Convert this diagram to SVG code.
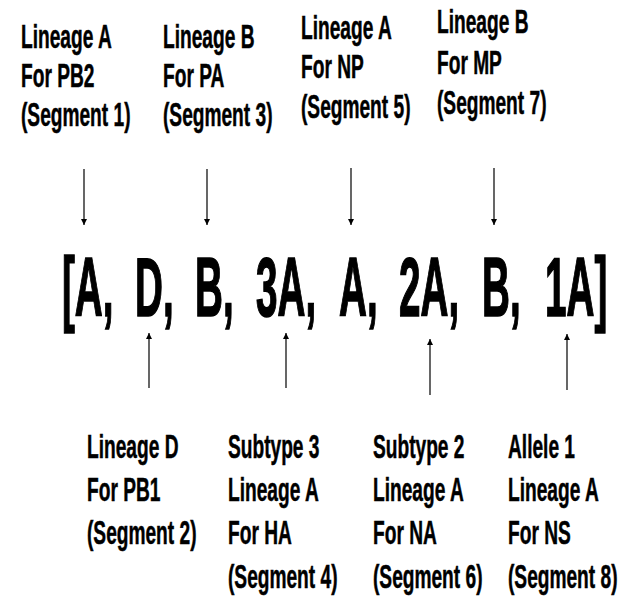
<svg xmlns="http://www.w3.org/2000/svg" width="633" height="607" viewBox="0 0 633 607">
<style>
.lbl{font-family:"Liberation Sans",Arial,sans-serif;font-weight:bold;font-size:33px;fill:#000;stroke:#000;stroke-width:0.5}
.big{font-family:"Liberation Sans",Arial,sans-serif;font-weight:bold;font-size:84px;fill:#000;stroke:#000;stroke-width:1.6}
.arr{stroke:#000;stroke-width:1.2;fill:none;marker-end:url(#ah)}
</style>
<defs>
<marker id="ah" viewBox="0 0 10 10" refX="10" refY="5" markerWidth="10" markerHeight="6" markerUnits="userSpaceOnUse" orient="auto">
<path d="M0,0 L10,5 L0,10 Z" fill="#000"/>
</marker>
</defs>
<rect width="633" height="607" fill="#fff"/>
<g id="top1" transform="translate(21,0) scale(0.58,1)">
<text class="lbl" x="0" y="48">Lineage A</text>
<text class="lbl" x="0" y="87">For PB2</text>
<text class="lbl" x="0" y="126">(Segment 1)</text>
</g>
<g id="top2" transform="translate(163,0) scale(0.58,1)">
<text class="lbl" x="0" y="48">Lineage B</text>
<text class="lbl" x="0" y="87">For PA</text>
<text class="lbl" x="0" y="126">(Segment 3)</text>
</g>
<g id="top3" transform="translate(301,0) scale(0.58,1)">
<text class="lbl" x="0" y="39">Lineage A</text>
<text class="lbl" x="0" y="78">For NP</text>
<text class="lbl" x="0" y="118">(Segment 5)</text>
</g>
<g id="top4" transform="translate(437,0) scale(0.58,1)">
<text class="lbl" x="0" y="33">Lineage B</text>
<text class="lbl" x="0" y="74">For MP</text>
<text class="lbl" x="0" y="114">(Segment 7)</text>
</g>
<g id="code">
<text class="big" transform="translate(62,316) scale(0.46,1)">[A,</text>
<text class="big" transform="translate(135,316) scale(0.46,1)">D,</text>
<text class="big" transform="translate(195,316) scale(0.46,1)">B,</text>
<text class="big" transform="translate(256,316) scale(0.46,1)">3A,</text>
<text class="big" transform="translate(339,316) scale(0.46,1)">A,</text>
<text class="big" transform="translate(399,316) scale(0.46,1)">2A,</text>
<text class="big" transform="translate(482,316) scale(0.46,1)">B,</text>
<text class="big" transform="translate(545,316) scale(0.46,1)">1A]</text>
</g>
<g id="bot1" transform="translate(87,0) scale(0.58,1)">
<text class="lbl" x="0" y="458">Lineage D</text>
<text class="lbl" x="0" y="501">For PB1</text>
<text class="lbl" x="0" y="544">(Segment 2)</text>
</g>
<g id="bot2" transform="translate(228,0) scale(0.58,1)">
<text class="lbl" x="0" y="458">Subtype 3</text>
<text class="lbl" x="0" y="501">Lineage A</text>
<text class="lbl" x="0" y="544">For HA</text>
<text class="lbl" x="0" y="588">(Segment 4)</text>
</g>
<g id="bot3" transform="translate(373,0) scale(0.58,1)">
<text class="lbl" x="0" y="458">Subtype 2</text>
<text class="lbl" x="0" y="501">Lineage A</text>
<text class="lbl" x="0" y="544">For NA</text>
<text class="lbl" x="0" y="588">(Segment 6)</text>
</g>
<g id="bot4" transform="translate(508,0) scale(0.58,1)">
<text class="lbl" x="0" y="458">Allele 1</text>
<text class="lbl" x="0" y="501">Lineage A</text>
<text class="lbl" x="0" y="544">For NS</text>
<text class="lbl" x="0" y="588">(Segment 8)</text>
</g>
<g id="connectors">
<line class="arr" x1="84" y1="169" x2="84" y2="225"/>
<line class="arr" x1="207" y1="169" x2="207" y2="225"/>
<line class="arr" x1="351" y1="168" x2="351" y2="225"/>
<line class="arr" x1="494" y1="168" x2="494" y2="225"/>
<line class="arr" x1="149" y1="388" x2="149" y2="333"/>
<line class="arr" x1="286" y1="388" x2="286" y2="333"/>
<line class="arr" x1="430" y1="395" x2="430" y2="339"/>
<line class="arr" x1="567" y1="390" x2="567" y2="334"/>
</g>
</svg>
